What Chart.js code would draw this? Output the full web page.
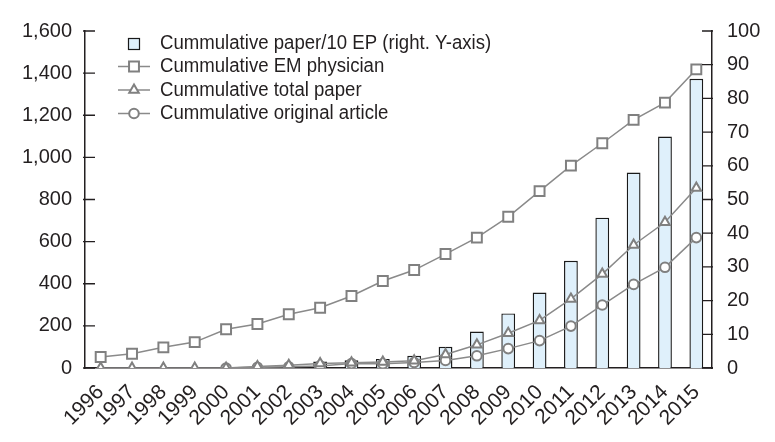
<!DOCTYPE html>
<html>
<head>
<meta charset="utf-8">
<script src="https://cdn.jsdelivr.net/npm/chart.js@4.4.0/dist/chart.umd.min.js"></script>
<style>
  html, body { margin: 0; padding: 0; background: #fff; }
</style>
</head>
<body>
<canvas id="chart" width="775" height="442"></canvas>
<script>
/* ---- data ---- */
const years = ["1996","1997","1998","1999","2000","2001","2002","2003","2004","2005",
               "2006","2007","2008","2009","2010","2011","2012","2013","2014","2015"];

// right axis
const paperPer10EP = [null,null,null,null,null,null,null,1.9,2.3,2.7,
                      3.6,6.3,10.8,16.2,22.4,31.8,44.6,58.0,68.7,85.8];

// left axis
const emPhysician = [52,68,98,123,184,209,255,286,342,413,
                     465,541,619,718,840,961,1067,1178,1260,1418];
const totalPaper = [0,0,0,0,0,7,13,21,25,29,
                    35,64,110,165,226,328,446,584,692,855];
const originalArticle = [null,null,null,null,0,3,6,10,21,20,
                         26,36,58,92,130,199,299,397,478,619];

const leftTicks = [0,200,400,600,800,1000,1200,1400,1600];
const rightTicks = [0,10,20,30,40,50,60,70,80,90,100];

const legendLabels = [
    "Cummulative paper/10 EP (right. Y-axis)",
    "Cummulative EM physician",
    "Cummulative total paper",
    "Cummulative original article"
];

const INK = "#231f20";
const GREY = "#8a8a8a";
const FONT = "'Liberation Sans', Arial, sans-serif";

/* ---- marker drawing (legend) ---- */
function drawMarker(ctx, style, r, x, y) {
    ctx.beginPath();
    if (style === "rect") {
        const s = Math.SQRT1_2 * r;
        ctx.rect(x - s, y - s, 2 * s, 2 * s);
    } else if (style === "triangle") {
        for (let i = 0; i < 3; i++) {
            const a = -Math.PI / 2 + i * 2 * Math.PI / 3;
            const px = x + Math.cos(a) * r, py = y + Math.sin(a) * r;
            if (i === 0) ctx.moveTo(px, py); else ctx.lineTo(px, py);
        }
        ctx.closePath();
    } else {
        ctx.arc(x, y, r, 0, Math.PI * 2);
    }
    ctx.fill();
    ctx.stroke();
}

/* ---- legend plugin ---- */
const legendPlugin = {
    id: "customLegend",
    afterDraw(chart) {
        const ctx = chart.ctx;
        const rowY = [43, 66.5, 90, 113.5];
        ctx.save();

        chart.data.datasets.forEach((ds, i) => {
            const y = rowY[i];
            if (ds.type === "bar") {
                ctx.fillStyle = ds.backgroundColor;
                ctx.strokeStyle = ds.borderColor;
                ctx.lineWidth = 1.2;
                ctx.fillRect(128.5, y - 4.5, 11, 11);
                ctx.strokeRect(128.5, y - 4.5, 11, 11);
            } else {
                ctx.strokeStyle = ds.borderColor;
                ctx.lineWidth = 1.5;
                ctx.beginPath();
                ctx.moveTo(118, y);
                ctx.lineTo(150, y);
                ctx.stroke();
                ctx.fillStyle = "#fff";
                ctx.strokeStyle = ds.pointBorderColor;
                ctx.lineWidth = ds.pointBorderWidth;
                drawMarker(ctx, ds.pointStyle, ds.pointRadius, 134, y);
            }
            // slightly condensed text, like the original typeface
            ctx.save();
            ctx.translate(160, y);
            ctx.scale(0.93, 1);
            ctx.font = "20px " + FONT;
            ctx.textBaseline = "middle";
            ctx.fillStyle = INK;
            ctx.fillText(legendLabels[i], 0, 0);
            ctx.restore();
        });
        ctx.restore();
    }
};

/* ---- inward tick marks ---- */
const innerTicks = {
    id: "innerTicks",
    afterDraw(chart) {
        const ctx = chart.ctx;
        const area = chart.chartArea;
        ctx.save();
        ctx.strokeStyle = INK;
        ctx.lineWidth = 1.3;
        ctx.beginPath();
        chart.scales.y.ticks.forEach(t => {
            const y = chart.scales.y.getPixelForValue(t.value);
            ctx.moveTo(area.left - 2, y);
            ctx.lineTo(area.left + 10, y);
        });
        chart.scales.y1.ticks.forEach(t => {
            const y = chart.scales.y1.getPixelForValue(t.value);
            ctx.moveTo(area.right - 10, y);
            ctx.lineTo(area.right + 1, y);
        });
        ctx.stroke();
        ctx.restore();
    }
};

function lineSet(label, data, style, radius) {
    return {
        type: "line",
        label: label,
        data: data,
        yAxisID: "y",
        borderColor: GREY,
        borderWidth: 1.5,
        pointStyle: style,
        pointRadius: radius,
        pointBorderColor: "#808080",
        pointBorderWidth: 2,
        pointBackgroundColor: "#fff",
        tension: 0,
        spanGaps: false,
        order: 1
    };
}

new Chart(document.getElementById("chart"), {
    type: "bar",
    data: {
        labels: years,
        datasets: [
            {
                type: "bar",
                label: legendLabels[0],
                data: paperPer10EP,
                yAxisID: "y1",
                backgroundColor: "#dff0fb",
                borderColor: "#1a1a1a",
                borderWidth: 1.4,
                borderSkipped: "bottom",
                barPercentage: 0.44,
                categoryPercentage: 1,
                order: 10
            },
            lineSet(legendLabels[1], emPhysician, "rect", 7),
            lineSet(legendLabels[2], totalPaper, "triangle", 5.5),
            lineSet(legendLabels[3], originalArticle, "circle", 4.8)
        ]
    },
    options: {
        responsive: false,
        animation: false,
        layout: { padding: { top: 31, left: 0, right: 0, bottom: 0 } },
        plugins: {
            legend: { display: false },
            tooltip: { enabled: false }
        },
        scales: {
            x: {
                grid: { display: false, drawTicks: false },
                border: { display: true, color: INK, width: 1.5 },
                ticks: {
                    color: INK,
                    font: { family: FONT, size: 21 },
                    maxRotation: 45,
                    minRotation: 45,
                    padding: 12,
                    autoSkip: false
                },
                afterFit(s) { s.height = 74; }
            },
            y: {
                position: "left",
                min: 0,
                max: 1600,
                afterBuildTicks(s) { s.ticks = leftTicks.map(v => ({ value: v })); },
                grid: { display: false, drawTicks: false },
                border: { display: true, color: INK, width: 1.5 },
                ticks: {
                    color: INK,
                    font: { family: FONT, size: 20 },
                    padding: 13,
                    callback: v => v.toLocaleString("en-US")
                },
                afterFit(s) { s.width = 85; }
            },
            y1: {
                position: "right",
                min: 0,
                max: 100,
                afterBuildTicks(s) { s.ticks = rightTicks.map(v => ({ value: v })); },
                grid: { display: false, drawTicks: false },
                border: { display: true, color: INK, width: 1.5 },
                ticks: {
                    color: INK,
                    font: { family: FONT, size: 20 },
                    padding: 15
                },
                afterFit(s) { s.width = 63; }
            }
        }
    },
    plugins: [innerTicks, legendPlugin]
});
</script>
</body>
</html>
